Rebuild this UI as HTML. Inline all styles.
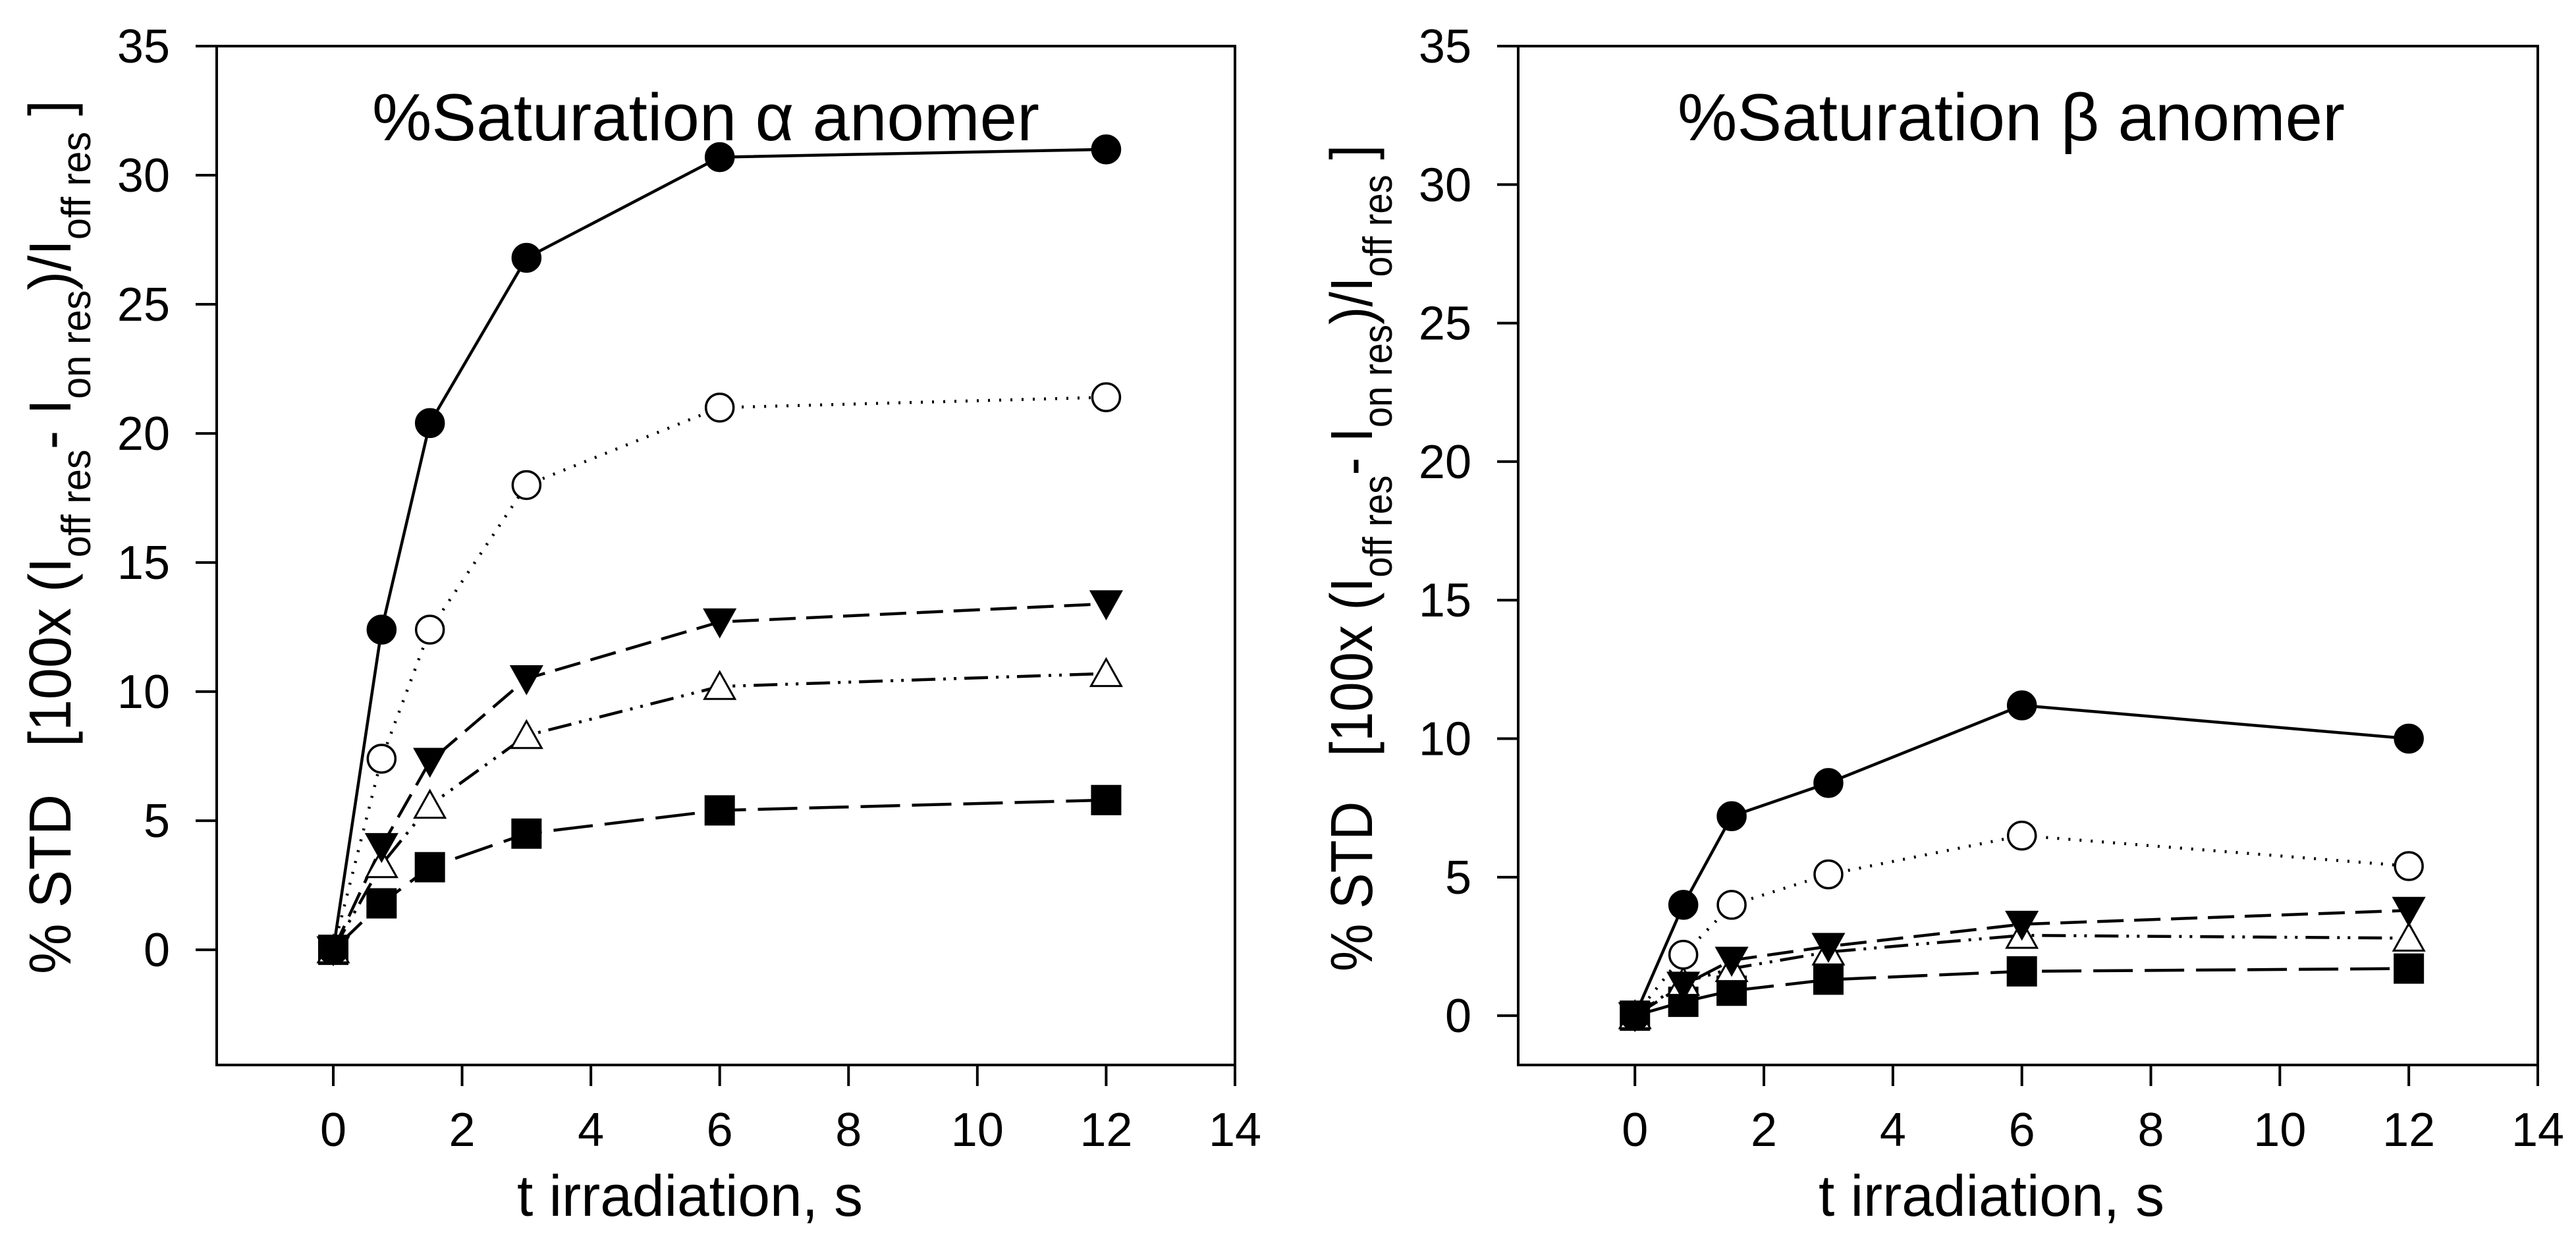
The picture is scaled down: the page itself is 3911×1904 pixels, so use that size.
<!DOCTYPE html>
<html><head><meta charset="utf-8"><style>
html,body{margin:0;padding:0;background:#fff;}
svg{display:block;}
text{font-family:"Liberation Sans",Arial,sans-serif;fill:#000;}
</style></head>
<body>
<svg id="fig" width="3911" height="1904" viewBox="0 0 3911 1904" xmlns="http://www.w3.org/2000/svg"></svg>
<script>
const xValues = [0, 0.75, 1.5, 3, 6, 12];
const xTicks = [0, 2, 4, 6, 8, 10, 12, 14];
const yTicks = [0, 5, 10, 15, 20, 25, 30, 35];
// alpha anomer
const alphaFilledCircle = [0, 12.4, 20.4, 26.8, 30.7, 31.0];
const alphaOpenCircle   = [0, 7.4, 12.4, 18.0, 21.0, 21.4];
const alphaDownTri      = [0, 4.0, 7.3, 10.5, 12.7, 13.4];
const alphaUpTri        = [0, 3.3, 5.6, 8.3, 10.2, 10.7];
const alphaSquare       = [0, 1.8, 3.2, 4.5, 5.4, 5.8];
// beta anomer
const betaFilledCircle = [0, 4.0, 7.2, 8.4, 11.2, 10.0];
const betaOpenCircle   = [0, 2.2, 4.0, 5.1, 6.5, 5.4];
const betaDownTri      = [0, 1.1, 2.0, 2.5, 3.3, 3.8];
const betaUpTri        = [0, 1.2, 1.7, 2.3, 2.9, 2.8];
const betaSquare       = [0, 0.5, 0.9, 1.3, 1.6, 1.7];

const NS = "http://www.w3.org/2000/svg";
const svg = document.getElementById('fig');
function mk(tag, attrs, parent){
  const e = document.createElementNS(NS, tag);
  for (const k in attrs) e.setAttribute(k, attrs[k]);
  (parent||svg).appendChild(e);
  return e;
}

function panel(cfg){
  const g = mk('g', {});
  
  
  const L=cfg.left, R=cfg.right, T=70, B=1617;
  const sx = v => L + (v - cfg.xmin)/(14 - cfg.xmin)*(R-L);
  const sy = v => B - (v - cfg.ymin)/(35 - cfg.ymin)*(B-T);
  const frame = mk('rect', {x:L,y:T,width:R-L,height:B-T,fill:'none',stroke:'#000','stroke-width':4}, g);
  
  
  xTicks.forEach(t=>{
    const X = sx(t);
    const tk = mk('line', {x1:X,y1:B,x2:X,y2:B+32,stroke:'#000','stroke-width':4}, g);
    
    
    const lb = mk('text', {x:X,y:1740,'font-size':72,'text-anchor':'middle'}, g);
    
    
    lb.textContent = t;
  });
  yTicks.forEach(t=>{
    const Y = sy(t);
    const tk = mk('line', {x1:L-32,y1:Y,x2:L,y2:Y,stroke:'#000','stroke-width':4}, g);
    
    
    const lb = mk('text', {x:L-71,y:Y+25,'font-size':72,'text-anchor':'end'}, g);
    
    
    lb.textContent = t;
  });
  const tt = mk('text', {x:cfg.titleX,y:213,'font-size':101,textLength:1013,lengthAdjust:'spacingAndGlyphs'}, g);
  
  
  tt.textContent = cfg.title;
  const xt = mk('text', {x:L+456,y:1846,'font-size':88,textLength:525,lengthAdjust:'spacingAndGlyphs'}, g);
  
  
  xt.textContent = 't irradiation, s';
  const yg = mk('g', {transform:`translate(${L-222},${cfg.ylabStart}) rotate(-90)`}, g);
  const yt = mk('text', {x:0,y:0,'font-size':90,textLength:cfg.ylabLen,lengthAdjust:'spacingAndGlyphs','xml:space':'preserve'}, yg);
  
  
  yt.innerHTML = '% STD\u00a0\u00a0 [100x (I<tspan font-size="62" dy="30">off res</tspan><tspan dy="-30">- I</tspan><tspan font-size="62" dy="30">on res</tspan><tspan dy="-30">)/I</tspan><tspan font-size="62" dy="30">off res</tspan><tspan dy="-30"> ]</tspan>';

  const series = [
    {name:'series-filled-circle', data:cfg.s[0], dash:'', marker:'circle', fill:'#000'},
    {name:'series-open-circle', data:cfg.s[1], dash:'3 14', marker:'circle', fill:'#fff'},
    {name:'series-filled-down-triangle', data:cfg.s[2], dash:'40 16', marker:'down', fill:'#000'},
    {name:'series-open-up-triangle', data:cfg.s[3], dash:'36 12 4 12 4 12', marker:'up', fill:'#fff'},
    {name:'series-filled-square', data:cfg.s[4], dash:'60 18', marker:'square', fill:'#000'}
  ];
  series.forEach(s=>{
    const pts = s.data.map((v,i)=>sx(xValues[i]).toFixed(1)+','+sy(v).toFixed(1)).join(' ');
    const pl = mk('polyline', {points:pts,fill:'none',stroke:'#000','stroke-width':4.5,'stroke-dasharray':s.dash||'none'}, g);
    
    
  });
  series.slice().reverse().forEach(s=>{
    s.data.forEach((v,i)=>{
      const X=sx(xValues[i]), Y=sy(v);
      let m;
      if (s.marker==='circle') m = mk('circle',{cx:X,cy:Y,r:21,fill:s.fill,stroke:'#000','stroke-width':3.5},g);
      else if (s.marker==='square') m = mk('rect',{x:X-22,y:Y-22,width:44,height:44,fill:s.fill,stroke:'#000','stroke-width':2},g);
      else if (s.marker==='down') m = mk('polygon',{points:`${X-23},${Y-19} ${X+23},${Y-19} ${X},${Y+22}`,fill:s.fill,stroke:'#000','stroke-width':3},g);
      else m = mk('polygon',{points:`${X-23},${Y+19} ${X+23},${Y+19} ${X},${Y-22}`,fill:s.fill,stroke:'#000','stroke-width':3},g);
      
      
    });
  });
}

panel({name:'alpha-anomer-chart', left:329, right:1875, xmin:-1.81, ymin:-4.46,
  title:'%Saturation \u03b1 anomer', titleX:565, ylabStart:1479, ylabLen:1327,
  s:[alphaFilledCircle, alphaOpenCircle, alphaDownTri, alphaUpTri, alphaSquare]});
panel({name:'beta-anomer-chart', left:2305, right:3853, xmin:-1.81, ymin:-1.78,
  title:'%Saturation \u03b2 anomer', titleX:2547, ylabStart:1475, ylabLen:1255,
  s:[betaFilledCircle, betaOpenCircle, betaDownTri, betaUpTri, betaSquare]});
</script>
</body></html>
